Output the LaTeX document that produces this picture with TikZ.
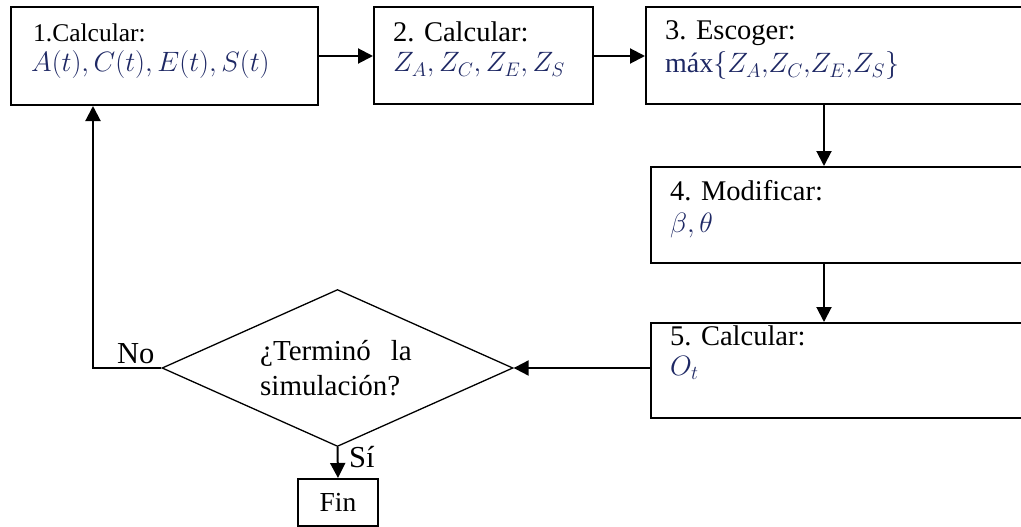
\RequirePackage{fix-cm}
\documentclass[tikz,border=0pt]{standalone}
\usepackage{fontspec}
\setmainfont{Liberation Serif}
\usetikzlibrary{arrows.meta,shapes.geometric}
\definecolor{mblue}{RGB}{30,40,100}
\begin{document}
\begin{tikzpicture}[x=1pt,y=-1pt,
  box/.style={draw, line width=2pt, rectangle, inner sep=0pt, anchor=north west},
  lbl/.style={anchor=base west, inner sep=0pt},
  fa/.style={font=\fontsize{25.5}{30}\selectfont},
  fb/.style={font=\fontsize{28.5}{33}\selectfont},
  fm/.style={font=\fontsize{28}{33}\selectfont},
  fd/.style={font=\fontsize{29}{34}\selectfont},
  fy/.style={font=\fontsize{30.5}{35}\selectfont},
  arr/.style={line width=2pt, line join=miter, -{Triangle[length=15pt,width=15pt]}},
  dec/.style={draw, diamond, line width=1.3pt, inner sep=0pt}
]
\useasboundingbox (0,0) rectangle (1021,527);
\clip (0,0) rectangle (1021,527);

% boxes
\node[box, minimum width=307pt, minimum height=98pt] (b1) at (10,6) {};
\node[box, minimum width=219pt, minimum height=97pt] (b2) at (373,6) {};
\node[box, minimum width=385pt, minimum height=97pt] (b3) at (645,6) {};
\node[box, minimum width=380pt, minimum height=96pt] (b4) at (650,166) {};
\node[box, minimum width=380pt, minimum height=95pt] (b5) at (650,322) {};
\node[dec, minimum width=351pt, minimum height=157pt] (d) at (337.5,368) {};
\node[draw, line width=2pt, rectangle, inner sep=0pt, minimum width=80pt, minimum height=47pt,
      font=\fontsize{27.5}{32}\selectfont] (fin) at (338,502.5) {Fin};

% texts
\node[lbl, fa] (t1a) at (33,42) {1.Calcular:};
\node[lbl, fm, text=mblue] (t1b) at (31,72) {$A(t),C(t),E(t),S(t)$};
\node[lbl, fb] (t2a) at (393,42) {2. Calcular:};
\node[lbl, fm, text=mblue] (t2b) at (393,72) {$Z_A,Z_C,Z_E,Z_S$};
\node[lbl, fb] (t3a) at (665,40) {3. Escoger:};
\node[lbl, fm, text=mblue] (t3b) at (665,73) {máx$\{Z_A{,}Z_C{,}Z_E{,}Z_S\}$};
\node[lbl, fb] (t4a) at (670,200) {4. Modificar:};
\node[lbl, fm, text=mblue] (t4b) at (670,232) {$\beta,\theta$};
\node[lbl, fb] (t5a) at (670,345) {5. Calcular:};
\node[lbl, fm, text=mblue] (t5b) at (670,375) {$O_t$};
\node[lbl, fd] (tda) at (260,360) {¿Terminó\hspace{20pt}la};
\node[lbl, fd] (tdb) at (260,395) {simulación?};
\node[lbl, fy] (no) at (117,363) {No};
\node[lbl, fy] (si) at (349,467) {Sí};

% connectors
\coordinate (x34) at (824,0);
\coordinate (c1) at (93,368);
\draw[arr] (b1.east) -- (b1.east -| b2.west);
\draw[arr] (b2.east |- b1.east) -- (b1.east -| b3.west);
\draw[arr] (x34 |- b3.south) -- (x34 |- b4.north);
\draw[arr] (x34 |- b4.south) -- (x34 |- b5.north);
\draw[arr] (d.east -| b5.west) -- (d.east);
\draw[arr] (d.west) -- (c1) -- (c1 |- b1.south);
\draw[arr] (d.south) -- (fin.north);
\end{tikzpicture}
\end{document}
